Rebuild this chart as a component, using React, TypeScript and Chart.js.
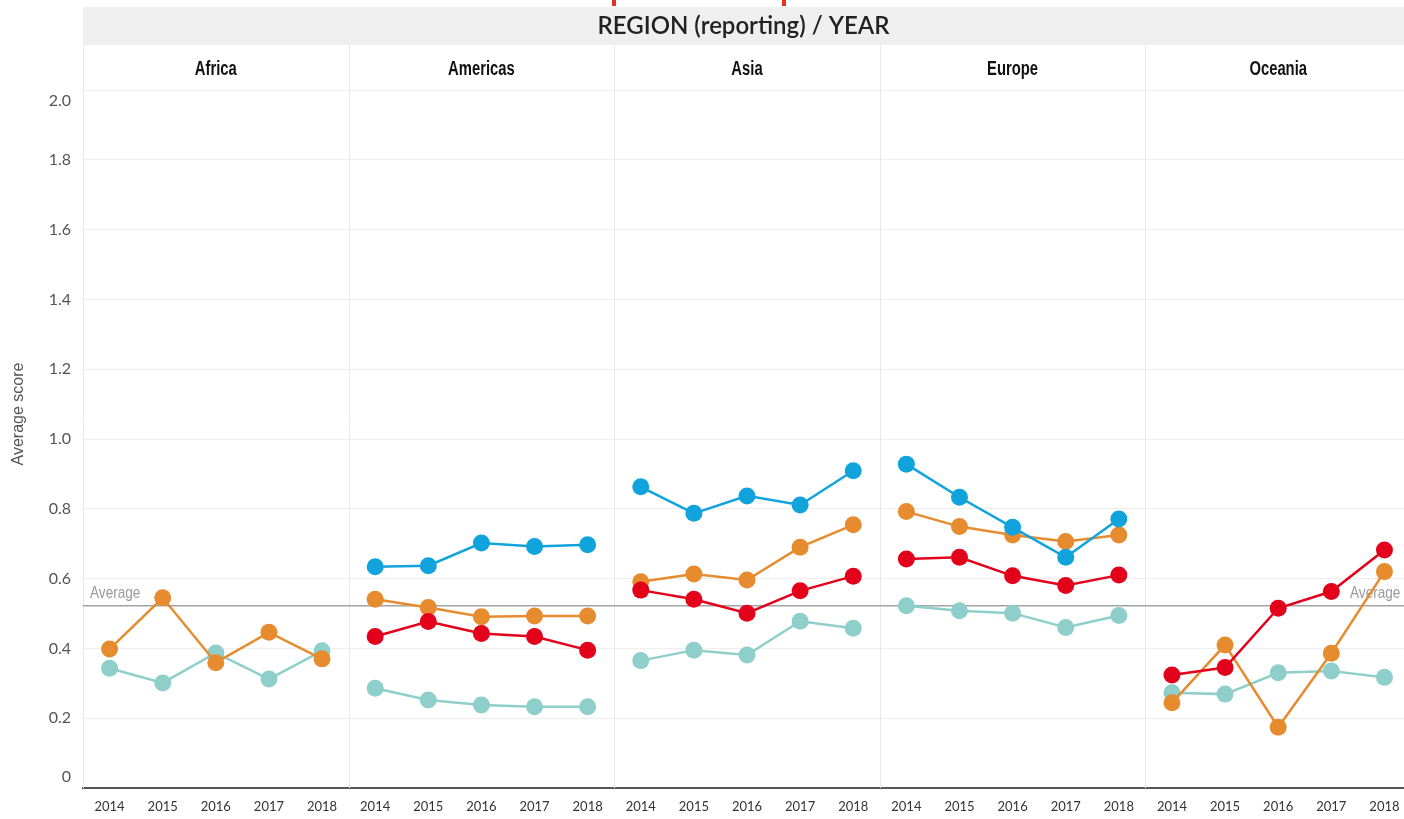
import React, { useEffect, useRef } from 'react';
import { Chart, registerables } from 'chart.js';

Chart.register(...registerables);

const YEARS = ['2014', '2015', '2016', '2017', '2018'];
const REGIONS = ['Africa', 'Americas', 'Asia', 'Europe', 'Oceania'];
const X_LABELS = REGIONS.flatMap(() => YEARS);
const HEADER_TITLE = 'REGION (reporting) / YEAR';
const Y_TITLE = 'Average score';
const AVERAGE = 0.522;

// 25 values each: Africa, Americas, Asia, Europe, Oceania (2014..2018)
const BLUE = [
  null, null, null, null, null,
  0.634, 0.637, 0.702, 0.692, 0.697,
  0.863, 0.787, 0.837, 0.811, 0.909,
  0.928, 0.833, 0.747, 0.661, 0.771,
  null, null, null, null, null,
];
const RED = [
  null, null, null, null, null,
  0.434, 0.477, 0.443, 0.434, 0.395,
  0.567, 0.541, 0.501, 0.565, 0.607,
  0.656, 0.661, 0.608, 0.580, 0.610,
  0.324, 0.345, 0.515, 0.563, 0.682,
];
const ORANGE = [
  0.398, 0.545, 0.359, 0.446, 0.370,
  0.541, 0.517, 0.491, 0.493, 0.493,
  0.591, 0.613, 0.596, 0.690, 0.754,
  0.792, 0.749, 0.725, 0.706, 0.725,
  0.244, 0.410, 0.174, 0.386, 0.620,
];
const TEAL = [
  0.343, 0.301, 0.387, 0.312, 0.393,
  0.286, 0.252, 0.238, 0.233, 0.233,
  0.365, 0.395, 0.381, 0.478, 0.458,
  0.522, 0.508, 0.501, 0.460, 0.494,
  0.273, 0.269, 0.330, 0.335, 0.317,
];

const COLORS = {
  blue: '#11a3dc',
  red: '#e3001b',
  orange: '#e68c2f',
  teal: '#8ecfcb',
};

const CANVAS_W = 1411;
const VIEW_W = 1404;
const VIEW_H = 819;

const makeSet = (label: string, data: (number | null)[], color: string, order: number) => ({
  label,
  data,
  borderColor: color,
  backgroundColor: color,
  pointBackgroundColor: color,
  pointBorderWidth: 0,
  pointRadius: 8.5,
  pointHoverRadius: 8.5,
  borderWidth: 2.5,
  tension: 0,
  spanGaps: false,
  order,
  segment: {
    borderColor: (ctx: any) => (ctx.p0DataIndex % YEARS.length === YEARS.length - 1 ? 'rgba(0,0,0,0)' : color),
  },
});

const condensedText = (ctx: any, text: string, x: number, y: number, sx: number) => {
  ctx.save();
  ctx.translate(x, y);
  ctx.scale(sx, 1);
  ctx.fillText(text, 0, 0);
  ctx.restore();
};

const facetPlugin = {
  id: 'facetDecor',
  beforeDraw(chart: any) {
    const { ctx, chartArea } = chart;
    const x = chart.scales.x;
    ctx.save();
    ctx.fillStyle = '#ffffff';
    ctx.fillRect(0, 0, chart.width, chart.height);
    // top red marks
    ctx.fillStyle = '#e2321f';
    ctx.fillRect(612, 0, 4, 6);
    ctx.fillRect(782, 0, 4, 6);
    // header band
    ctx.fillStyle = '#efefef';
    ctx.fillRect(chartArea.left, 7, chart.width - chartArea.left, 38);
    ctx.fillStyle = '#222';
    ctx.font = '600 24px Lato';
    ctx.textAlign = 'center';
    ctx.textBaseline = 'middle';
    ctx.fillText(HEADER_TITLE, (chartArea.left + VIEW_W) / 2, 26);
    // panel names
    ctx.font = 'bold 20px "Liberation Sans", Arial, sans-serif';
    ctx.fillStyle = '#111';
    const n = YEARS.length;
    REGIONS.forEach((r, i) => {
      const cx = (x.getPixelForValue(i * n) + x.getPixelForValue(i * n + n - 1)) / 2;
      condensedText(ctx, r, cx, 69, 0.74);
    });
    // y title
    ctx.save();
    ctx.translate(19, 414);
    ctx.rotate(-Math.PI / 2);
    ctx.font = '16px "Liberation Sans", Arial, sans-serif';
    ctx.fillStyle = '#555';
    ctx.fillText(Y_TITLE, 0, 0);
    ctx.restore();
    ctx.restore();
  },
  beforeDatasetsDraw(chart: any) {
    const { ctx, chartArea } = chart;
    const x = chart.scales.x;
    const y = chart.scales.y;
    const n = YEARS.length;
    const half = (x.getPixelForValue(1) - x.getPixelForValue(0)) / 2;
    ctx.save();
    ctx.strokeStyle = '#e8e8e8';
    ctx.lineWidth = 1;
    REGIONS.forEach((_r, i) => {
      const px = Math.round(x.getPixelForValue(i * n) - half) + 0.5;
      ctx.beginPath();
      ctx.moveTo(px, 45);
      ctx.lineTo(px, chartArea.bottom);
      ctx.stroke();
    });
    // average line
    const ay = y.getPixelForValue(AVERAGE);
    ctx.strokeStyle = '#a3a3a3';
    ctx.lineWidth = 1.5;
    ctx.beginPath();
    ctx.moveTo(chartArea.left, ay);
    ctx.lineTo(chartArea.right, ay);
    ctx.stroke();
    ctx.fillStyle = '#9a9a9a';
    ctx.font = '17px "Liberation Sans", Arial, sans-serif';
    ctx.textAlign = 'left';
    ctx.textBaseline = 'alphabetic';
    condensedText(ctx, 'Average', chartArea.left + 7, ay - 8, 0.8);
    condensedText(ctx, 'Average', chartArea.right - 61, ay - 8, 0.8);
    ctx.restore();
  },
};

export default function App() {
  const ref = useRef<HTMLCanvasElement>(null);
  useEffect(() => {
    if (!ref.current) return;
    const chart = new Chart(ref.current, {
      type: 'line',
      data: {
        labels: X_LABELS,
        datasets: [
          makeSet('Blue', BLUE, COLORS.blue, 1),
          makeSet('Red', RED, COLORS.red, 2),
          makeSet('Orange', ORANGE, COLORS.orange, 3),
          makeSet('Teal', TEAL, COLORS.teal, 4),
        ] as any,
      },
      options: {
        responsive: false,
        animation: false,
        devicePixelRatio: 1,
        layout: { autoPadding: false, padding: { top: 90, left: 0, right: 0, bottom: 0 } },
        plugins: { legend: { display: false }, tooltip: { enabled: false } },
        scales: {
          x: {
            type: 'category',
            offset: true,
            grid: { display: false, drawTicks: false },
            border: { color: '#555', width: 2 },
            ticks: {
              autoSkip: false,
              maxRotation: 0,
              padding: 11,
              color: '#333',
              font: { family: 'Lato', size: 13 },
            },
            afterFit: (s: any) => {
              s.height = 31;
              s.paddingLeft = 0;
              s.paddingRight = 0;
            },
          },
          y: {
            min: 0,
            max: 2,
            grid: { color: '#eeeeee', drawTicks: false },
            border: { display: false },
            ticks: {
              stepSize: 0.2,
              padding: 12,
              color: '#555',
              font: { family: 'Lato', size: 16, lineHeight: 1.35 },
              callback: (v: any) => {
                const num = Number(v);
                const s = Math.abs(num) < 1e-9 ? '0' : num.toFixed(1);
                if (num > 1.99) return ['', s];
                if (Math.abs(num) < 1e-9) return [s, ''];
                return s;
              },
            },
            afterFit: (s: any) => {
              s.width = 83;
              s.paddingTop = 0;
              s.paddingBottom = 0;
            },
          },
        },
      },
      plugins: [facetPlugin],
    } as any);
    return () => chart.destroy();
  }, []);
  return (
    <div style={{ position: 'absolute', left: 0, top: 0, width: VIEW_W, height: VIEW_H, overflow: 'hidden', background: '#fff' }}>
      <div style={{ width: CANVAS_W, height: VIEW_H }}>
        <canvas ref={ref} width={CANVAS_W} height={VIEW_H} style={{ display: 'block', width: CANVAS_W, height: VIEW_H }} />
      </div>
    </div>
  );
}
